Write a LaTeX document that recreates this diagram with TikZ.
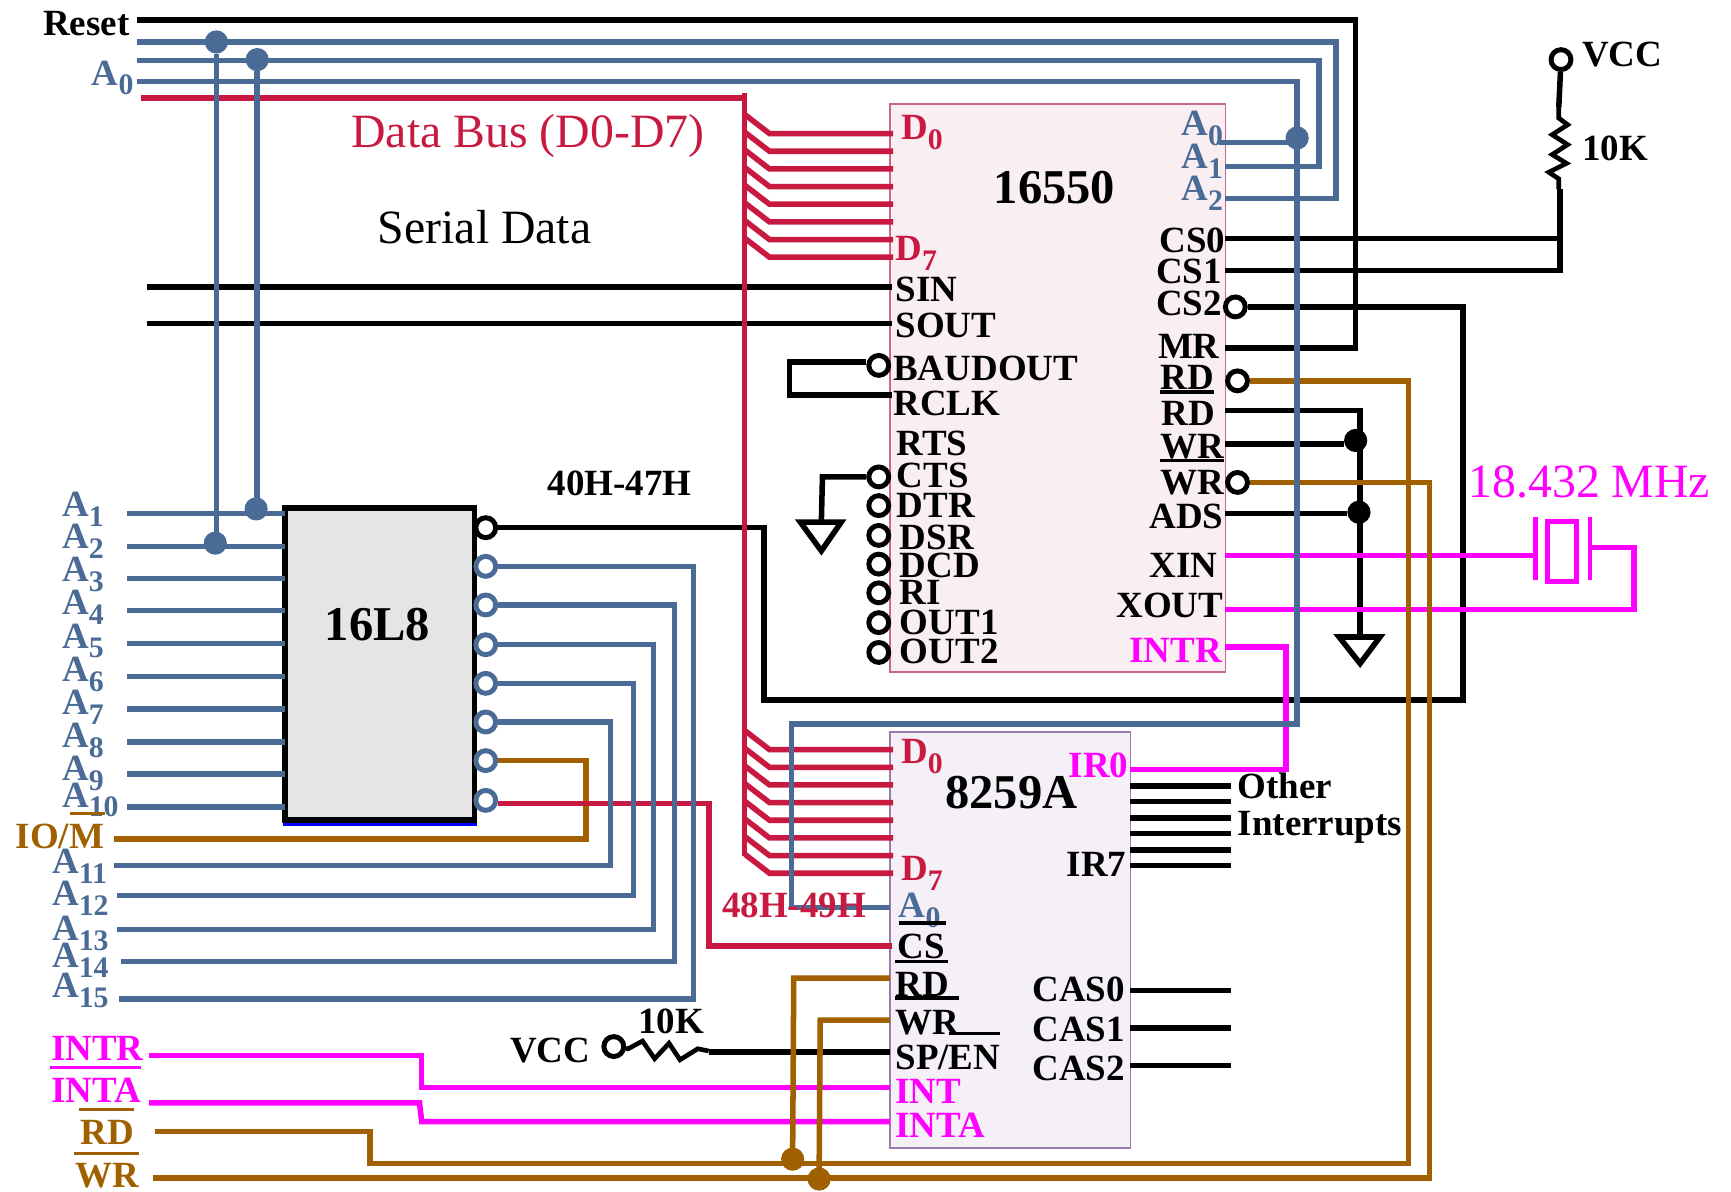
\documentclass[tikz,border=0pt]{standalone}
\usepackage{fontspec}
\setmainfont{Liberation Serif}
\usetikzlibrary{calc}

\newcommand{\pinsub}[1]{\raisebox{-9pt}{\fontsize{27}{27}\selectfont #1}}

\tikzset{
    wire/.style={line width=5pt},
    stub/.style={draw=C1, line width=5pt, shorten >=-3pt},
    bar/.style={line width=3.2pt},
    chip/.style={draw, anchor=north west, inner sep=0pt, outer sep=0pt},
    bubble/.style={draw, shape=circle, fill=white, line width=4.5pt, inner sep=0pt, minimum size=18pt},
    dot/.style={shape=circle, inner sep=0pt, minimum size=21pt},
    lbl/.style={anchor=base west, inner sep=0pt, yshift=-1pt, font=\bfseries\fontsize{33.5}{36}\selectfont},
    big/.style={anchor=base west, inner sep=0pt, yshift=-1pt, font=\fontsize{43.3}{46}\selectfont},
    title/.style={anchor=base west, inner sep=0pt, font=\bfseries\fontsize{44}{46}\selectfont},
}

\begin{document}
\begin{tikzpicture}[x=1pt, y=-1pt]
    \definecolor{C0}{HTML}{4A6B96}
    \definecolor{C1}{HTML}{C81A41}
    \definecolor{C2}{HTML}{A06000}
    \definecolor{C3}{HTML}{FF00FF}
    \definecolor{C4}{HTML}{F9EEF2}
    \definecolor{C5}{HTML}{C8688A}
    \definecolor{C6}{HTML}{F5F0F7}
    \definecolor{C7}{HTML}{9B7BB0}
    \definecolor{C8}{HTML}{E5E5E5}

    \useasboundingbox (0,0) rectangle (1568,1079);

    % chips
    \node[chip, fill=C4, draw=C5, line width=1.5pt, minimum width=304pt, minimum height=515pt] (uart) at (806,94) {};
    \node[chip, fill=C6, draw=C7, line width=1.5pt, minimum width=218pt, minimum height=377pt] (pic) at (806,663) {};
    \path[draw=blue, line width=3pt] (256,746.5) -- (432,746.5);
    \node[chip, fill=C8, line width=5pt, minimum width=172pt, minimum height=283pt] (pal) at (258,460) {};

    % free ends
    \coordinate (reset) at (124,18);
    \coordinate (addra) at (124,38);
    \coordinate (addrb) at (124,55);
    \coordinate (addrc) at (124,74);
    \coordinate (data) at (128,89);
    \coordinate (sdin) at (133,260);
    \coordinate (sdout) at (133,293);
    \coordinate (a1) at (115,465);
    \coordinate (a2) at (115,495);
    \coordinate (a3) at (115,524);
    \coordinate (a4) at (115,553);
    \coordinate (a5) at (115,583);
    \coordinate (a6) at (115,613);
    \coordinate (a7) at (115,642);
    \coordinate (a8) at (115,672);
    \coordinate (a9) at (115,701);
    \coordinate (a10) at (115,731);
    \coordinate (iom) at (103,760);
    \coordinate (a11) at (103,784);
    \coordinate (a12) at (106,811);
    \coordinate (a13) at (106,842);
    \coordinate (a14) at (110,871);
    \coordinate (a15) at (108,905);
    \coordinate (intr) at (135,956);
    \coordinate (inta) at (135,999);
    \coordinate (rdin) at (140,1025);
    \coordinate (wrin) at (139,1067);
    \coordinate (gnda) at (744,473);
    \coordinate (gndb) at (1232,577);
    \coordinate (ua0) at (1104,129);

    % junctions and open pins
    \node[dot, fill=C0] (j1) at (196,38) {};
    \node[dot, fill=C0] (j2) at (233,54) {};
    \node[dot, fill=C0] (j3) at (232,461) {};
    \node[dot, fill=C0] (j4) at (195,492) {};
    \node[dot, fill=C0] (j5) at (1175,125) {};
    \node[dot, fill=black] (j6) at (1228,399) {};
    \node[dot, fill=black] (j7) at (1231,464) {};
    \node[dot, fill=C2] (j8) at (718,1050) {};
    \node[dot, fill=C2] (j9) at (742,1068) {};

    \node[bubble] (vcca) at (1414,54) {};
    \node[bubble] (vccb) at (556,948) {};
    \node[bubble] (cstwo) at (1119,278) {};
    \node[bubble] (rdn) at (1121,345) {};
    \node[bubble] (wrn) at (1121,437) {};
    \node[bubble] (baud) at (796,331) {};
    \node[bubble] (cts) at (796,432) {};
    \node[bubble] (dtr) at (796,458) {};
    \node[bubble] (dsr) at (796,485) {};
    \node[bubble] (dcd) at (796,511) {};
    \node[bubble] (ri) at (796,537) {};
    \node[bubble] (outa) at (796,564) {};
    \node[bubble] (outb) at (796,591) {};

    \node[bubble] (p0) at (440,478) {};
    \node[bubble, draw=C0] (p1) at (440,513) {};
    \node[bubble, draw=C0] (p2) at (440,548) {};
    \node[bubble, draw=C0] (p3) at (440,584) {};
    \node[bubble, draw=C0] (p4) at (440,619) {};
    \node[bubble, draw=C0] (p5) at (440,654) {};
    \node[bubble, draw=C0] (p6) at (440,689) {};
    \node[bubble, draw=C0] (p7) at (440,725) {};

    % black
    \path[draw, wire] (reset) -- (1228,18) -- (1228,315) -- (uart.east |- 0,315);
    \path[draw, wire, shorten >=-2pt] (sdin) -- (sdin -| uart.west);
    \path[draw, wire, shorten >=-2pt] (sdout) -- (sdout -| uart.west);
    \path[draw, wire, shorten >=-2pt] (baud.west |- 0,328) -- (715,328) -- (715,358) -- (uart.west |- 0,358);
    \path[draw, wire] (cts) -- (745,432) -- (gnda);
    \path[draw, wire, fill=white] (725,473) -- (762,473) -- (744,499) -- cycle;
    \path[draw, wire] (p0) -- (692,478) -- (692,634) -- (1325,634) -- (1325,278) -- (cstwo);
    \path[draw, wire] (vcca) -- (1412,97);
    \path[draw, line width=4.2pt] (1412,97) -- (1412,107) -- (1420,113) -- (1406,122) -- (1420,131) -- (1406,140) -- (1419,148) -- (1403,156) -- (1412,162) -- (1412,171);
    \path[draw, wire] (1413,171) -- (1413,245) -- (uart.east |- 0,245);
    \path[draw, wire] (uart.east |- 0,216) -- (1413,216);
    \path[draw, wire] (uart.east |- 0,372) -- (1232,372) -- (gndb);
    \path[draw, wire, fill=white] (1213,577) -- (1250,577) -- (1232,601) -- cycle;
    \path[draw, wire] (uart.east |- 0,402) -- (j6.west |- 0,402);
    \path[draw, wire] (uart.east |- 0,465) -- (j7.west |- 0,465);
    \path[draw, line width=4.2pt] (vccb) -- (569,950) -- (582,943) -- (593,959) -- (606,945) -- (616,960) -- (632,950) -- (642,952);
    \path[draw, wire] (642,953) -- (pic.west |- 0,953);
    \path[draw, wire] (pic.east |- 0,712) -- (1115,712);
    \path[draw, wire] (pic.east |- 0,726) -- (1115,726);
    \path[draw, wire] (pic.east |- 0,741) -- (1115,741);
    \path[draw, wire] (pic.east |- 0,755) -- (1115,755);
    \path[draw, wire] (pic.east |- 0,770) -- (1115,770);
    \path[draw, wire] (pic.east |- 0,784) -- (1115,784);
    \path[draw, wire] (pic.east |- 0,897) -- (1115,897);
    \path[draw, wire] (pic.east |- 0,931) -- (1115,931);
    \path[draw, wire] (pic.east |- 0,965) -- (1115,965);

    % magenta
    \path[draw=C3, wire] (uart.east |- 0,503) -- (1391,503);
    \path[draw=C3, wire] (1440,496) -- (1480,496) -- (1480,552) -- (uart.east |- 0,552);
    \path[draw=C3, line width=4pt] (1391,468) -- (1391,525);
    \path[draw=C3, line width=4pt] (1440,468) -- (1440,525);
    \node[draw=C3, line width=4.5pt, anchor=north west, inner sep=0pt, outer sep=0pt, minimum width=26pt, minimum height=55pt] (xtal) at (1402,472) {};
    \path[draw=C3, wire] (uart.east |- 0,586) -- (1165,586) -- (1165,697) -- (pic.east |- 0,697);
    \path[draw=C3, wire] (intr) -- (382,956) -- (382,985) -- (pic.west |- 0,985);
    \path[draw=C3, wire] (inta) -- (380,999) -- (382,1016) -- (pic.west |- 0,1016);

    % brown
    \path[draw=C2, wire] (p6) -- (531,689) -- (531,760) -- (iom);
    \path[draw=C2, wire] (rdn) -- (1276,345) -- (1276,1054) -- (335,1054) -- (335,1025) -- (rdin);
    \path[draw=C2, wire] (wrn) -- (1295,437) -- (1295,1067) -- (wrin);
    \path[draw=C2, wire] (j8.north |- 0,1045) -- (719,886) -- (pic.west |- 0,886);
    \path[draw=C2, wire] (j9.north |- 0,1060) -- (743,924) -- (pic.west |- 0,924);

    % red
    \path[draw=C1, wire] (data) -- (674,89);
    \path[draw=C1, line width=4.4pt] (674,84) -- (674,775);
    \path[stub] (675,104) -- (697,121) -- (uart.west |- 0,121);
    \path[stub] (675,120) -- (697,137) -- (uart.west |- 0,137);
    \path[stub] (675,136) -- (697,153) -- (uart.west |- 0,153);
    \path[stub] (675,152) -- (697,169) -- (uart.west |- 0,169);
    \path[stub] (675,168) -- (697,185) -- (uart.west |- 0,185);
    \path[stub] (675,184) -- (697,201) -- (uart.west |- 0,201);
    \path[stub] (675,200) -- (697,217) -- (uart.west |- 0,217);
    \path[stub] (675,216) -- (697,233) -- (uart.west |- 0,233);
    \path[stub] (675,662) -- (697,679) -- (pic.west |- 0,679);
    \path[stub] (675,678) -- (697,695) -- (pic.west |- 0,695);
    \path[stub] (675,694) -- (697,711) -- (pic.west |- 0,711);
    \path[stub] (675,710) -- (697,727) -- (pic.west |- 0,727);
    \path[stub] (675,726) -- (697,743) -- (pic.west |- 0,743);
    \path[stub] (675,742) -- (697,759) -- (pic.west |- 0,759);
    \path[stub] (675,758) -- (697,775) -- (pic.west |- 0,775);
    \path[stub] (675,774) -- (697,791) -- (pic.west |- 0,791);
    \path[draw=C1, wire, shorten >=-2pt] (p7.east |- 0,728) -- (642,728) -- (642,857) -- (pic.west |- 0,857);

    % blue
    \path[draw=C0, wire] (addra) -- (1210,38) -- (1210,180) -- (uart.east |- 0,180);
    \path[draw=C0, wire] (addrb) -- (1195,55) -- (1195,151) -- (uart.east |- 0,151);
    \path[draw=C0, wire] (addrc) -- (1175,74) -- (1175,656) -- (717,656) -- (717,822) -- (pic.west |- 0,822);
    \path[draw=C0, wire] (ua0) -- (ua0 -| j5);
    \path[draw=C0, wire] (j1) -- (j1 |- j4);
    \path[draw=C0, wire] (j2) -- (j2 |- j3);
    \path[draw=C0, wire] (a1) -- (a1 -| pal.west);
    \path[draw=C0, wire] (a2) -- (a2 -| pal.west);
    \path[draw=C0, wire] (a3) -- (a3 -| pal.west);
    \path[draw=C0, wire] (a4) -- (a4 -| pal.west);
    \path[draw=C0, wire] (a5) -- (a5 -| pal.west);
    \path[draw=C0, wire] (a6) -- (a6 -| pal.west);
    \path[draw=C0, wire] (a7) -- (a7 -| pal.west);
    \path[draw=C0, wire] (a8) -- (a8 -| pal.west);
    \path[draw=C0, wire] (a9) -- (a9 -| pal.west);
    \path[draw=C0, wire] (a10) -- (a10 -| pal.west);
    \path[draw=C0, wire] (p1) -- (628,513) -- (628,905) -- (a15);
    \path[draw=C0, wire] (p2) -- (611,548) -- (611,871) -- (a14);
    \path[draw=C0, wire] (p3) -- (592,584) -- (592,842) -- (a13);
    \path[draw=C0, wire] (p4) -- (574,619) -- (574,811) -- (a12);
    \path[draw=C0, wire] (p5) -- (553,654) -- (553,784) -- (a11);

    % text on the left
    \node[lbl] (treset) at (39,31) {Reset};
    \node[lbl, text=C0] (ta0) at (83,76) {A\pinsub{0}};
    \node[big, text=C1] (tbus) at (318,133) {Data Bus (D0-D7)};
    \node[big] (tserial) at (342,220) {Serial Data};
    \node[title] (tpal) at (294,580) {16L8};
    \node[lbl] (taddr) at (496,448) {40H-47H};
    \node[lbl, text=C0] (ta1) at (56,467) {A\pinsub{1}};
    \node[lbl, text=C0] (ta2) at (56,496) {A\pinsub{2}};
    \node[lbl, text=C0] (ta3) at (56,526) {A\pinsub{3}};
    \node[lbl, text=C0] (ta4) at (56,556) {A\pinsub{4}};
    \node[lbl, text=C0] (ta5) at (56,586) {A\pinsub{5}};
    \node[lbl, text=C0] (ta6) at (56,616) {A\pinsub{6}};
    \node[lbl, text=C0] (ta7) at (56,646) {A\pinsub{7}};
    \node[lbl, text=C0] (ta8) at (56,676) {A\pinsub{8}};
    \node[lbl, text=C0] (ta9) at (56,706) {A\pinsub{9}};
    \node[lbl, text=C0] (ta10) at (56,730) {A\pinsub{10}};
    \node[lbl, text=C2] (tiom) at (14,768) {IO/M};
    \path[draw=C2, bar] (63,737) -- (95,737);
    \node[lbl, text=C0] (ta11) at (47,790) {A\pinsub{11}};
    \node[lbl, text=C0] (ta12) at (47,819) {A\pinsub{12}};
    \node[lbl, text=C0] (ta13) at (47,851) {A\pinsub{13}};
    \node[lbl, text=C0] (ta14) at (47,875) {A\pinsub{14}};
    \node[lbl, text=C0] (ta15) at (47,903) {A\pinsub{15}};
    \node[lbl, text=C3] (tintr) at (46,960) {INTR};
    \path[draw=C3, bar] (45,967) -- (128,967);
    \node[lbl, text=C3] (tinta) at (46,998) {INTA};
    \path[draw=C2, bar] (72,1005) -- (121,1005);
    \node[lbl, text=C2] (trd) at (73,1036) {RD};
    \path[draw=C2, bar] (67,1045) -- (126,1045);
    \node[lbl, text=C2] (twr) at (68,1075) {WR};
    \node[lbl] (tvccb) at (462,961) {VCC};
    \node[lbl] (trb) at (578,935) {10K};

    % text of the 16550
    \node[title] (tuart) at (900,184) {16550};
    \node[lbl, text=C1] (td0) at (816,125) {D\pinsub{0}};
    \node[lbl, text=C1] (td7) at (811,235) {D\pinsub{7}};
    \node[lbl] (tsin) at (811,272) {SIN};
    \node[lbl] (tsout) at (811,305) {SOUT};
    \node[lbl] (tbaud) at (809,344) {BAUDOUT};
    \node[lbl] (trclk) at (809,375) {RCLK};
    \node[lbl] (trts) at (812,412) {RTS};
    \node[lbl] (tcts) at (812,441) {CTS};
    \node[lbl] (tdtr) at (812,468) {DTR};
    \node[lbl] (tdsr) at (815,497) {DSR};
    \node[lbl] (tdcd) at (815,522) {DCD};
    \node[lbl] (tri) at (815,547) {RI};
    \node[lbl] (touta) at (815,574) {OUT1};
    \node[lbl] (toutb) at (815,600) {OUT2};
    \node[lbl, text=C0] (tua0) at (1070,122) {A\pinsub{0}};
    \node[lbl, text=C0] (tua1) at (1070,152) {A\pinsub{1}};
    \node[lbl, text=C0] (tua2) at (1070,181) {A\pinsub{2}};
    \node[lbl, anchor=base east] (tcs0) at (1110,228) {CS0};
    \node[lbl, anchor=base east] (tcs1) at (1107,256) {CS1};
    \node[lbl, anchor=base east] (tcs2) at (1107,285) {CS2};
    \node[lbl, anchor=base east] (tmr) at (1105,324) {MR};
    \node[lbl] (trdn) at (1051,352) {RD};
    \path[draw, bar] (1051,355) -- (1100,355);
    \node[lbl] (trdp) at (1052,384) {RD};
    \node[lbl] (twrn) at (1051,414) {WR};
    \path[draw, bar] (1051,417) -- (1109,417);
    \node[lbl] (twrp) at (1051,447) {WR};
    \node[lbl] (tads) at (1041,478) {ADS};
    \node[lbl] (txin) at (1041,522) {XIN};
    \node[lbl] (txout) at (1011,558) {XOUT};
    \node[lbl, text=C3] (tuintr) at (1023,599) {INTR};
    \node[lbl] (tvcca) at (1433,59) {VCC};
    \node[lbl] (tra) at (1433,144) {10K};
    \node[big, text=C3] (tfreq) at (1330,450) {18.432 MHz};

    % text of the 8259A
    \node[title] (tpic) at (856,732) {8259A};
    \node[lbl, text=C1] (tpd0) at (816,691) {D\pinsub{0}};
    \node[lbl, text=C1] (tpd7) at (816,797) {D\pinsub{7}};
    \node[lbl, text=C1] (tcsaddr) at (654,830) {48H-49H};
    \node[lbl, text=C0] (tpa0) at (814,830) {A\pinsub{0}};
    \path[draw, bar] (814,836) -- (857,836);
    \node[lbl] (tcs) at (813,867) {CS};
    \path[draw, bar] (811,871) -- (859,871);
    \node[lbl] (tprd) at (811,902) {RD};
    \path[draw, bar] (811,904) -- (869,904);
    \node[lbl] (tpwr) at (811,936) {WR};
    \path[draw, bar] (860,936) -- (906,936);
    \node[lbl] (tspen) at (811,968) {SP/EN};
    \node[lbl, text=C3] (tint) at (811,999) {INT};
    \node[lbl, text=C3] (tpinta) at (811,1029) {INTA};
    \node[lbl, text=C3] (tir0) at (968,703) {IR0};
    \node[lbl] (tir7) at (966,793) {IR7};
    \node[lbl] (tcas0) at (935,906) {CAS0};
    \node[lbl] (tcas1) at (935,942) {CAS1};
    \node[lbl] (tcas2) at (935,978) {CAS2};
    \node[lbl] (tother) at (1121,722) {Other};
    \node[lbl] (tints) at (1121,756) {Interrupts};

\end{tikzpicture}
\end{document}
